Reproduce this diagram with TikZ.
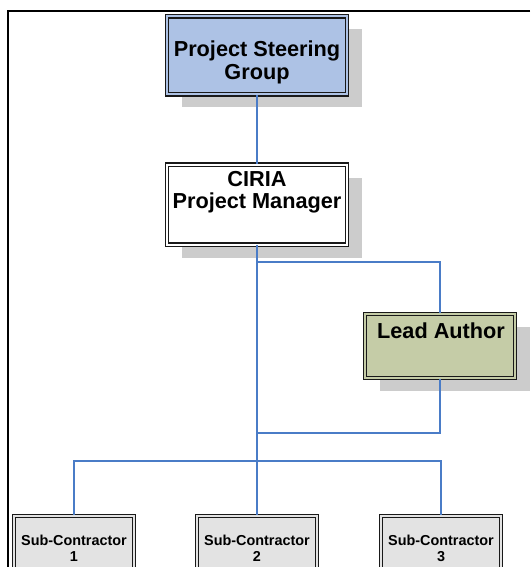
\documentclass[tikz,border=0pt]{standalone}
\usepackage{fontspec}
\setmainfont{Liberation Sans}
\usetikzlibrary{shadows}
\definecolor{psgblue}{HTML}{ADC2E5}
\definecolor{leadolive}{HTML}{C5CCA7}
\definecolor{subgray}{HTML}{E3E3E3}
\definecolor{shadowgray}{HTML}{CCCCCC}
\definecolor{linkblue}{HTML}{4A7CC7}
\tikzset{
  orgbox/.style={rectangle, inner sep=0pt, draw=black!90, line width=1.1pt,
    double distance=2pt},
  boxshadow/.style={general shadow={fill=shadowgray, shadow xshift=15pt, shadow yshift=-13pt}},
  bigtext/.style={anchor=base, inner sep=0pt, font=\fontsize{21.7}{24}\selectfont\bfseries},
  smalltext/.style={anchor=base, inner sep=0pt, font=\fontsize{14.4}{16}\selectfont\bfseries},
  link/.style={draw=linkblue, line width=1.8pt},
  frameline/.style={draw=black, line width=2.5pt}
}
\begin{document}
\begin{tikzpicture}[x=1pt, y=-1pt]
\useasboundingbox (0,0) rectangle (530,567);
\clip (0,0) rectangle (530,567);

% outer frame (top and left rules)
\draw[frameline] (530,11) -- (8,11) -- (8,568);

% boxes
\node[orgbox, boxshadow, fill=psgblue, double=psgblue,
      minimum width=180pt, minimum height=78pt] (psg) at (257,55.5) {};
\node[orgbox, boxshadow, fill=white, double=white,
      minimum width=180pt, minimum height=80pt] (ciria) at (257,204.5) {};
\node[orgbox, boxshadow, fill=leadolive, double=leadolive,
      minimum width=150pt, minimum height=64pt] (lead) at (440,346) {};
\node[orgbox, fill=subgray, double=subgray,
      minimum width=120pt, minimum height=70pt] (sub1) at (74,551) {};
\node[orgbox, fill=subgray, double=subgray,
      minimum width=120pt, minimum height=70pt] (sub2) at (257,551) {};
\node[orgbox, fill=subgray, double=subgray,
      minimum width=120pt, minimum height=70pt] (sub3) at (441,551) {};

% labels
\node[bigtext] (psgA) at (257,57) {Project Steering};
\node[bigtext] (psgB) at (257,80) {Group};
\node[bigtext] (ciriaA) at (257,186) {CIRIA};
\node[bigtext] (ciriaB) at (257,208) {Project Manager};
\node[bigtext] (leadA) at (441,338) {Lead Author};
\node[smalltext] (sub1A) at (74,545) {Sub-Contractor};
\node[smalltext] (sub1B) at (74,561) {1};
\node[smalltext] (sub2A) at (257,545) {Sub-Contractor};
\node[smalltext] (sub2B) at (257,561) {2};
\node[smalltext] (sub3A) at (441,545) {Sub-Contractor};
\node[smalltext] (sub3B) at (441,561) {3};

% junction points on the trunk
\coordinate (jLead) at (257,262);
\coordinate (jBack) at (257,433);
\coordinate (jSubs) at (257,461);

% connectors
\draw[link] (psg.south) -- (ciria.north);
\draw[link] (ciria.south) -- (sub2.north);
\draw[link] (jLead) -| (lead.north);
\draw[link] (lead.south) |- (jBack);
\draw[link] (sub1.north) |- (jSubs) -| (sub3.north);
\end{tikzpicture}
\end{document}
